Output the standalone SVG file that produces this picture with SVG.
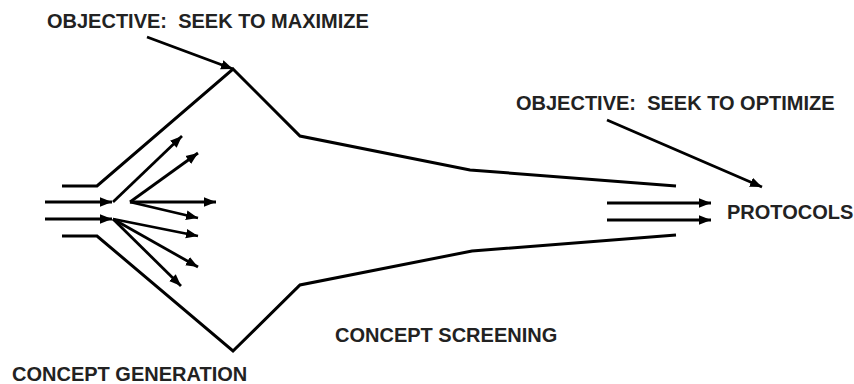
<svg xmlns="http://www.w3.org/2000/svg" width="854" height="384" viewBox="0 0 854 384">
  <defs>
    <marker id="arrow" markerUnits="userSpaceOnUse" markerWidth="14" markerHeight="12" refX="12" refY="6" orient="auto">
      <path d="M0,1.2 L12,6 L0,10.8 Z" fill="#000"/>
    </marker>
  </defs>
  <style>
    .outline { fill: none; stroke: #000; stroke-width: 3; stroke-linejoin: miter; }
    .arr { fill: none; stroke: #000; stroke-width: 2.8; marker-end: url(#arrow); }
    .lbl { font-family: "Liberation Sans", Arial, sans-serif; font-weight: bold; font-size: 20px; fill: #222; }
  </style>
  <rect width="854" height="384" fill="#fff"/>

  <!-- funnel outline -->
  <g id="funnel">
    <polyline class="outline" points="62,186 97,186 233,69 300,136 470,170 676,186"/>
    <polyline class="outline" points="62,236 97,236 233,351 300,285 472,251 676,235"/>
  </g>

  <g id="connectors">
    <!-- incoming streams -->
    <line class="arr" x1="45" y1="202" x2="112" y2="202"/>
    <line class="arr" x1="45" y1="219" x2="112" y2="219"/>
    <!-- generated concepts fanning out -->
    <line class="arr" x1="113" y1="202" x2="182" y2="136"/>
    <line class="arr" x1="130" y1="202" x2="198" y2="153"/>
    <line class="arr" x1="130" y1="202" x2="216" y2="202"/>
    <line class="arr" x1="130" y1="202" x2="198" y2="218"/>
    <line class="arr" x1="113" y1="219" x2="198" y2="236"/>
    <line class="arr" x1="113" y1="219" x2="198" y2="267"/>
    <line class="arr" x1="113" y1="219" x2="181" y2="286"/>
    <!-- outgoing streams -->
    <line class="arr" x1="607" y1="203" x2="711" y2="203"/>
    <line class="arr" x1="607" y1="220" x2="711" y2="220"/>
    <!-- objective pointers -->
    <line class="arr" x1="147" y1="37" x2="233" y2="69"/>
    <line class="arr" x1="607" y1="120" x2="762" y2="187"/>
  </g>

  <g id="label-maximize"><text class="lbl" x="47" y="28" xml:space="preserve">OBJECTIVE:  SEEK TO MAXIMIZE</text></g>
  <g id="label-optimize"><text class="lbl" x="516" y="110" xml:space="preserve">OBJECTIVE:  SEEK TO OPTIMIZE</text></g>
  <g id="label-protocols"><text class="lbl" x="727" y="219">PROTOCOLS</text></g>
  <g id="label-screening"><text class="lbl" x="335" y="342">CONCEPT SCREENING</text></g>
  <g id="label-generation"><text class="lbl" x="12" y="381">CONCEPT GENERATION</text></g>
</svg>
